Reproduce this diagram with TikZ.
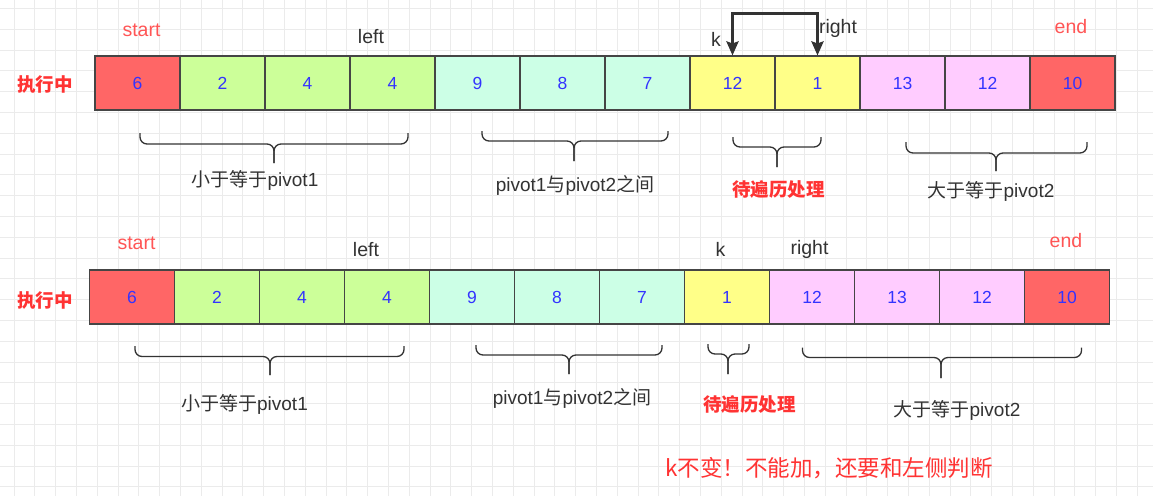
\documentclass[tikz,border=0pt]{standalone}
\usepackage{fontspec}
\setmainfont{Liberation Sans}
\newfontfamily\cjk{Noto Sans CJK SC}
\usetikzlibrary{arrows.meta}
\definecolor{cr}{HTML}{FF6666}
\definecolor{cg}{HTML}{CCFF99}
\definecolor{cm}{HTML}{CCFFE6}
\definecolor{cy}{HTML}{FFFF88}
\definecolor{cp}{HTML}{FFCCFF}
\definecolor{numblue}{HTML}{3333FF}
\definecolor{txtred}{HTML}{FF3333}
\definecolor{lblred}{HTML}{FF5555}
\definecolor{dark}{HTML}{333333}
\definecolor{cellline}{HTML}{454545}
\definecolor{gridc}{HTML}{EBEBEB}
\tikzset{
  cell/.style={draw=cellline, line width=1.1pt, minimum width=85pt, minimum height=54pt, inner sep=0pt,
    text=numblue, font=\fontsize{17.5}{20}\selectfont},
  ptr/.style={text=dark, font=\fontsize{19.5}{22}\selectfont, inner sep=0pt},
  ptrred/.style={text=lblred, font=\fontsize{19.5}{22}\selectfont, inner sep=0pt},
  state/.style={text=txtred, font=\fontsize{18.5}{22}\selectfont\cjk\bfseries, inner sep=0pt},
  grp/.style={text=dark, font=\fontsize{19}{22}\selectfont, inner sep=0pt},
  grpred/.style={text=txtred, font=\fontsize{18.5}{22}\selectfont\cjk\bfseries, inner sep=0pt},
  note/.style={text=txtred, font=\fontsize{22.5}{25}\selectfont\cjk, inner sep=0pt},
  bracestyle/.style={draw=dark, line width=1.3pt, rounded corners=7pt},
  swap/.style={draw=dark, line width=2.8pt, {Stealth[length=14pt,width=12pt,inset=2pt]}-{Stealth[length=14pt,width=12pt,inset=2pt]}},
}
\newcommand\mybrace[6]{%
  \draw[bracestyle] (#1,#4) -- (#1,#5) -- (#3,#5) -- (#3,#6);
  \draw[bracestyle] (#2,#4) -- (#2,#5) -- (#3,#5) -- (#3,#6);}
\begin{document}
\begin{tikzpicture}[x=1pt,y=-1pt]
\useasboundingbox (0,0) rectangle (1153,496);
\fill[white] (0,0) rectangle (1153,496);
% grid
\foreach \i in {0,...,55} \draw[gridc, line width=0.8pt] ({14+20.8*\i},0) -- ({14+20.8*\i},496);
\foreach \j in {0,...,23} \draw[gridc, line width=0.8pt] (0,{8.3+20.8*\j}) -- (1153,{8.3+20.8*\j});

% top row
\foreach \v/\c [count=\i from 0] in {6/cr,2/cg,4/cg,4/cg,9/cm,8/cm,7/cm,12/cy,1/cy,13/cp,12/cp,10/cr}
  \node[cell, fill=\c] (t\i) at ({137.5+85*\i},83) {\v};
% bottom row
\foreach \v/\c [count=\i from 0] in {6/cr,2/cg,4/cg,4/cg,9/cm,8/cm,7/cm,1/cy,12/cp,13/cp,12/cp,10/cr}
  \node[cell, fill=\c] (b\i) at ({132+85*\i},297) {\v};

% row titles
\node[state] (s1) at (45,85) {执行中};
\node[state] (s2) at (45,301) {执行中};

% pointer labels top
\node[ptrred] (start1) at (141.5,30) {start};
\node[ptr] (left1) at (371,37) {left};
\node[ptr] (k1) at (716,39) {k};
\node[ptr] (right1) at (838,28) {right};
\node[ptrred] (end1) at (1071,27) {end};
% pointer labels bottom
\node[ptrred] (start2) at (136.5,243) {start};
\node[ptr] (left2) at (366,250) {left};
\node[ptr] (k2) at (720.5,249) {k};
\node[ptr] (right2) at (809.5,249) {right};
\node[ptrred] (end2) at (1066,241) {end};

% swap arrow
\draw[swap] (t7.north) -- ++(0,-42) -| (t8.north);

% braces top
\mybrace{140}{408}{274}{133}{144}{163}
\mybrace{482}{668}{574}{131}{141}{161}
\mybrace{733}{821}{777}{137}{147}{167}
\mybrace{906}{1087}{996}{142}{153}{171}
\node[grp] (g1) at (255,180) {{\cjk 小于等于}pivot1};
\node[grp] (g2) at (575,185) {pivot1{\cjk 与}pivot2{\cjk 之间}};
\node[grpred] (g3) at (778.5,189) {待遍历处理};
\node[grp] (g4) at (991,191) {{\cjk 大于等于}pivot2};

% braces bottom
\mybrace{135}{404}{270}{346}{356.5}{375}
\mybrace{476}{662}{569}{345}{355}{374}
\mybrace{708}{749}{728}{344}{354}{374}
\mybrace{802.5}{1081.5}{941}{347.5}{357.5}{378}
\node[grp] (h1) at (244.5,404) {{\cjk 小于等于}pivot1};
\node[grp] (h2) at (572,398) {pivot1{\cjk 与}pivot2{\cjk 之间}};
\node[grpred] (h3) at (749.5,404) {待遍历处理};
\node[grp] (h4) at (957,410.5) {{\cjk 大于等于}pivot2};

% note
\node[note] (n) at (829,468) {k不变！不能加，还要和左侧判断};
\end{tikzpicture}
\end{document}
